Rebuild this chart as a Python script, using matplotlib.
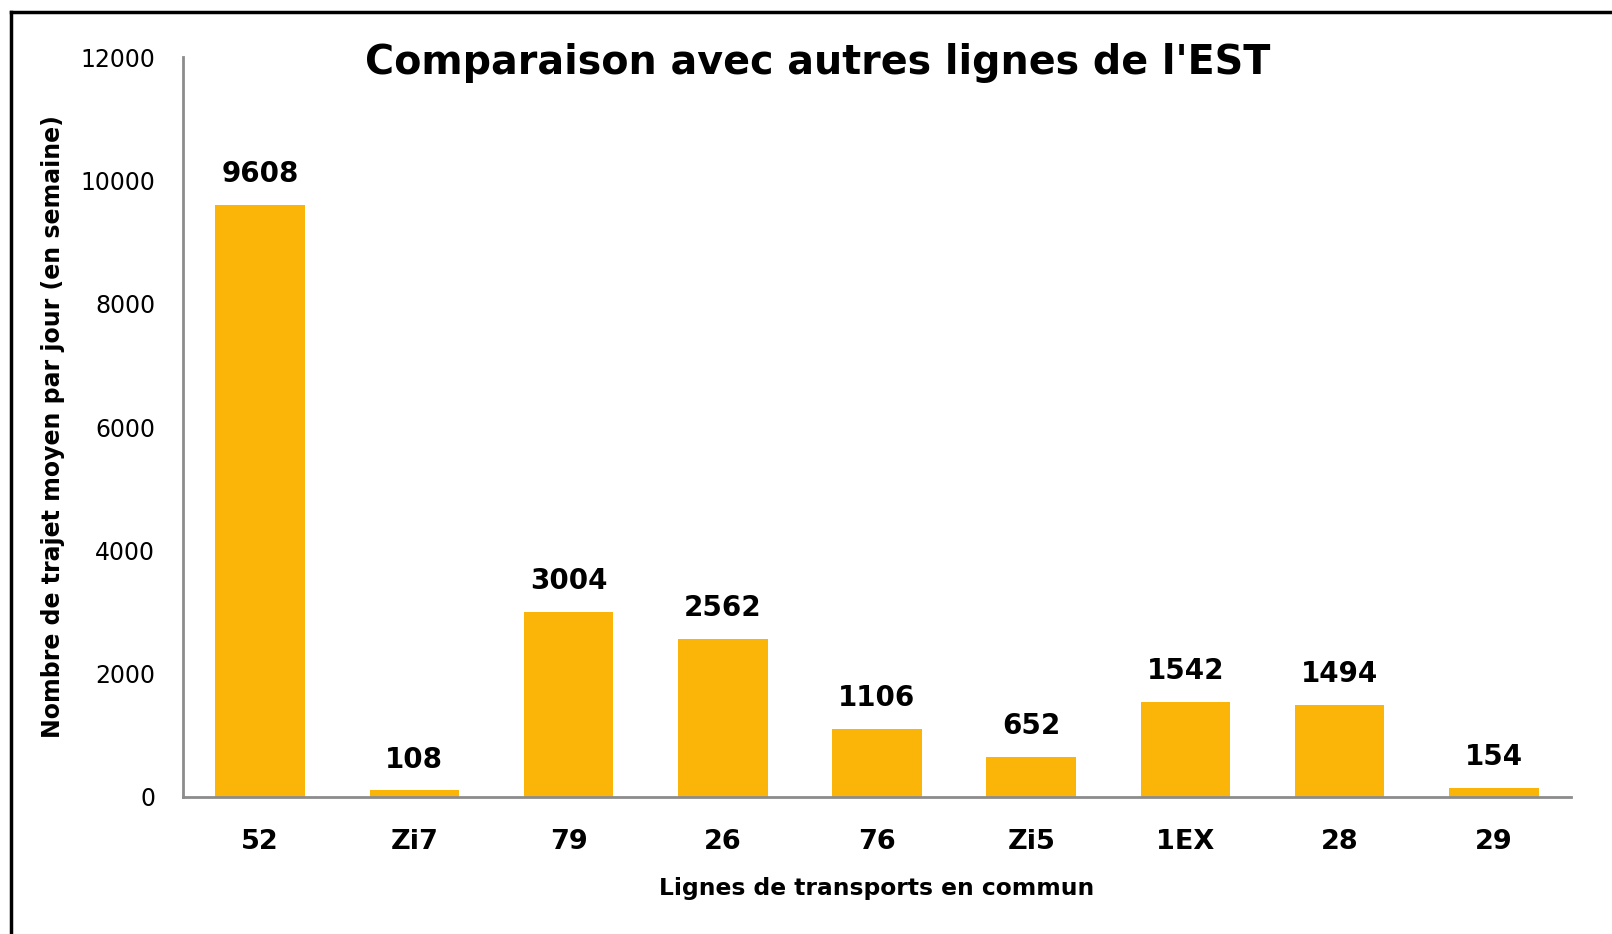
import matplotlib
matplotlib.use("Agg")
import matplotlib.pyplot as plt
from matplotlib.lines import Line2D

categories = ["52", "Zi7", "79", "26", "76", "Zi5", "1EX", "28", "29"]
values = [9608, 108, 3004, 2562, 1106, 652, 1542, 1494, 154]
yticks = [0, 2000, 4000, 6000, 8000, 10000, 12000]

W, H = 1612, 934
fig = plt.figure(figsize=(W / 100, H / 100), dpi=100)
plt.rcParams['font.family'] = ['DejaVu Sans']

ax = fig.add_axes([183 / W, (H - 797) / H, (1571 - 183) / W, (797 - 57) / H])
x = list(range(len(categories)))
ax.bar(x, values, width=0.58, color="#FBB508", zorder=2)
ax.set_xlim(-0.5, len(categories) - 0.5)
ax.set_ylim(0, 12000)
ax.set_yticks(yticks)
ax.set_yticklabels([str(t) for t in yticks], fontsize=17)
ax.set_xticks(x)
ax.set_xticklabels(categories, fontsize=19.5, fontweight="bold")
ax.tick_params(axis="y", length=0, pad=20)
ax.tick_params(axis="x", length=0, pad=23)
for s in ["top", "right"]:
    ax.spines[s].set_visible(False)
for s in ["left", "bottom"]:
    ax.spines[s].set_color("#8C8C8C")
    ax.spines[s].set_linewidth(2)

for xi, v in zip(x, values):
    ax.annotate(str(v), (xi, v), xytext=(0, 12), textcoords="offset points",
                ha="center", va="bottom", fontsize=20, fontweight="bold")

ax.set_xlabel("Lignes de transports en commun", fontsize=16.8, fontweight="bold", labelpad=16)
fig.text(53 / W, 1 - 427 / H, "Nombre de trajet moyen par jour (en semaine)", rotation=90,
         ha="center", va="center", fontsize=17, fontweight="bold")
fig.text(818 / W, 1 - 63 / H, "Comparaison avec autres lignes de l'EST",
         ha="center", va="center", fontsize=28.5, fontweight="bold")

# frame border (top and left visible)
fig.add_artist(Line2D([11 / W, 1.01], [1 - 12 / H, 1 - 12 / H], color="black", lw=2.5,
                      transform=fig.transFigure))
fig.add_artist(Line2D([11 / W, 11 / W], [-0.01, 1 - 12 / H], color="black", lw=2.5,
                      transform=fig.transFigure))

fig.savefig("out.png", dpi=100, facecolor="white")
